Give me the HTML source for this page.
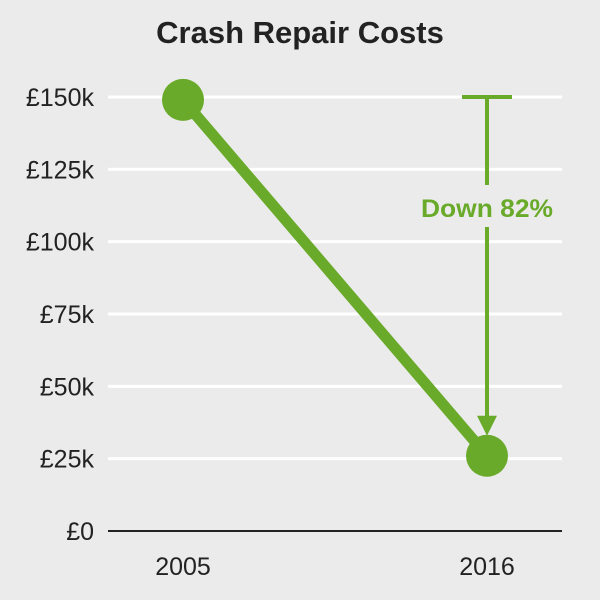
<!DOCTYPE html>
<html><head><meta charset="utf-8"><style>
body{margin:0;background:#ebebeb;}
svg{display:block;font-family:"Liberation Sans",sans-serif;}
</style></head><body>
<svg id="c" width="600" height="600">
<rect width="600" height="600" fill="#ebebeb"/>
<text x="300" y="43" text-anchor="middle" font-size="31" font-weight="bold" fill="#222">Crash Repair Costs</text>
</svg>
<script>
const categories=["2005","2016"];
const values=[149,26];
const ticks=[0,25,50,75,100,125,150];
const tickLabels=["£0","£25k","£50k","£75k","£100k","£125k","£150k"];
const annotation="Down 82%";
const NS="http://www.w3.org/2000/svg",svg=document.getElementById("c");
const y=v=>531-v*(434/150);
const xs=[183,487];
const x=i=>xs[0]+(xs[1]-xs[0])*i/(categories.length-1);
const G="#6aaa2a";
function mk(t,a,p){const e=document.createElementNS(NS,t);for(const k in a)e.setAttribute(k,a[k]);(p||svg).appendChild(e);return e;}
ticks.forEach((t,i)=>{
 if(t>0){const l=mk("line",{x1:108,x2:562,y1:y(t),y2:y(t),stroke:"#fff","stroke-width":3});
 
 }
 const tx=mk("text",{x:94,y:y(t)+9,"text-anchor":"end","font-size":25,fill:"#222"});
 tx.textContent=tickLabels[i];
 
 
});
const ax=mk("line",{x1:108,x2:562,y1:531,y2:531,stroke:"#222","stroke-width":2});


categories.forEach((c,i)=>{
 const t=mk("text",{x:x(i),y:575,"text-anchor":"middle","font-size":25,fill:"#222"});
 t.textContent=c;
 
 
});
const pl=mk("polyline",{points:values.map((v,i)=>x(i)+","+y(v)).join(" "),fill:"none",stroke:G,"stroke-width":11});


values.forEach((v,i)=>{
 const c=mk("circle",{cx:x(i),cy:y(v),r:21,fill:G});
 
 
});
const ix=x(1),topY=y(values[0]),botY=y(values[1])-24;
const cap=mk("line",{x1:ix-25,x2:ix+25,y1:y(150),y2:y(150),stroke:G,"stroke-width":4});


const a1=mk("line",{x1:ix,x2:ix,y1:y(150),y2:185,stroke:G,"stroke-width":4});


const a2=mk("line",{x1:ix,x2:ix,y1:227,y2:botY-12,stroke:G,"stroke-width":4});


const ah=mk("polygon",{points:`${ix-10},${botY-16} ${ix+10},${botY-16} ${ix},${botY+4}`,fill:G});


const at=mk("text",{x:ix,y:217,"text-anchor":"middle","font-size":25,"font-weight":"bold",fill:G,"textLength":132,"lengthAdjust":"spacingAndGlyphs"});
at.textContent=annotation;


</script>
</body></html>
